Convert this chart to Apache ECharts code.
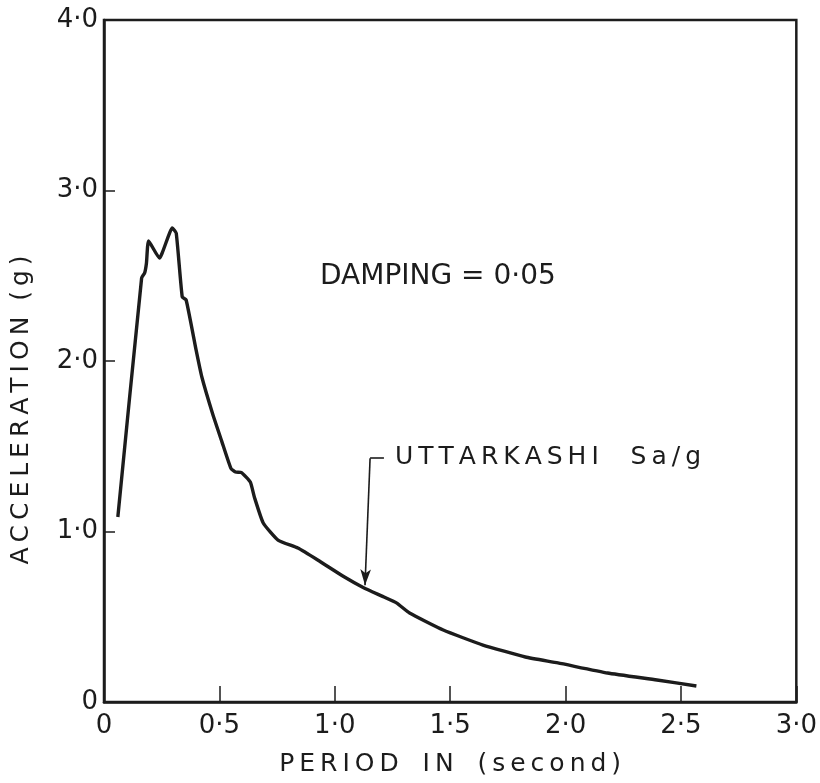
<!DOCTYPE html>
<html>
<head>
<meta charset="utf-8">
<title>Uttarkashi response spectrum</title>
<script src="https://cdn.jsdelivr.net/npm/echarts@6/dist/echarts.min.js"></script>
<style>
  html, body { margin: 0; padding: 0; background: #fff; }
  #chart { width: 820px; height: 783px; }
</style>
</head>
<body>
<div id="chart"></div>
<script>
// period (s) vs Sa/g
var periods = [0.06, 0.163, 0.176, 0.184, 0.193, 0.24, 0.296, 0.313, 0.339, 0.356,
  0.399, 0.424, 0.471, 0.51, 0.55, 0.57, 0.596, 0.634, 0.652, 0.69,
  0.754, 0.84, 0.926, 1.042, 1.127, 1.213, 1.269, 1.324, 1.47, 1.642,
  1.826, 1.967, 2.182, 2.396, 2.567]
var accel = [1.085, 2.487, 2.516, 2.575, 2.704, 2.604, 2.78, 2.75, 2.375, 2.358,
  2.065, 1.906, 1.689, 1.53, 1.37, 1.349, 1.345, 1.29, 1.2, 1.05,
  0.95, 0.903, 0.833, 0.733, 0.669, 0.616, 0.58, 0.522, 0.422, 0.334,
  0.264, 0.229, 0.17, 0.129, 0.094]

var xTickLabels = ['0', '0·5', '1·0', '1·5', '2·0', '2·5', '3·0']
var yTickLabels = ['0', '1·0', '2·0', '3·0', '4·0']

// annotation arrow (data coords)
var arrowTop = [1.153, 1.43]
var arrowTip = [1.131, 0.685]
var bracketEnd = [1.213, 1.43]

function spaced (s) {
  return s.split('').join('\u2009')
}

var ink = '#1c1c1c'
var font = '"DejaVu Sans", sans-serif'

var chart = echarts.init(document.getElementById('chart'))
var points = periods.map(function (p, i) { return [p, accel[i]] })

var options = {
  animation: false,
  grid: {
    left: 104,
    right: 18,
    top: 20,
    bottom: 81,
    show: true,
    borderColor: ink,
    borderWidth: 2.5
  },
  xAxis: {
    type: 'value',
    min: 0,
    max: 3,
    interval: 0.5,
    name: spaced('PERIOD') + '   ' + spaced('IN') + '   ' + spaced('(second)'),
    nameLocation: 'middle',
    nameGap: 50,
    nameTextStyle: { fontFamily: font, fontSize: 25, color: ink },
    axisLine: { show: true, lineStyle: { color: ink, width: 2.5 } },
    axisTick: { show: true, inside: true, length: 16, lineStyle: { color: ink, width: 1.5 } },
    axisLabel: {
      margin: 11,
      fontFamily: font,
      fontSize: 26,
      color: ink,
      formatter: function (v, i) { return xTickLabels[i] }
    },
    splitLine: { show: false }
  },
  yAxis: {
    type: 'value',
    min: 0,
    max: 4,
    interval: 1,
    axisLine: { show: true, lineStyle: { color: ink, width: 2.5 } },
    axisTick: { show: true, inside: true, length: 11, lineStyle: { color: ink, width: 1.5 } },
    axisLabel: {
      margin: 6,
      fontFamily: font,
      fontSize: 26,
      color: ink,
      formatter: function (v, i) { return yTickLabels[i] }
    },
    splitLine: { show: false }
  },
  graphic: [
    {
      type: 'text',
      x: 21,
      y: 410,
      rotation: Math.PI / 2,
      style: {
        text: spaced('ACCELERATION') + '  ' + spaced('(g)'),
        font: '25px ' + font,
        fill: ink,
        align: 'center',
        verticalAlign: 'middle'
      }
    },
    {
      type: 'text',
      x: 320,
      y: 277,
      style: {
        text: 'DAMPING = 0·05',
        font: '28px ' + font,
        fill: ink,
        align: 'left',
        verticalAlign: 'middle'
      }
    },
    {
      type: 'text',
      x: 395,
      y: 457,
      style: {
        text: spaced('UTTARKASHI') + '    ' + spaced('Sa/g'),
        font: '25px ' + font,
        fill: ink,
        align: 'left',
        verticalAlign: 'middle'
      }
    }
  ],
  series: [
    {
      name: 'Uttarkashi',
      type: 'line',
      data: points,
      smooth: 0.15,
      showSymbol: false,
      lineStyle: { color: ink, width: 3.4 },
      markLine: {
        silent: true,
        symbolSize: [8, 16],
        label: { show: false },
        lineStyle: { color: ink, width: 1.6, type: 'solid' },
        data: [
          [{ coord: arrowTop, symbol: 'none' }, { coord: arrowTip, symbol: 'arrow' }],
          [{ coord: arrowTop, symbol: 'none' }, { coord: bracketEnd, symbol: 'none' }]
        ]
      }
    }
  ]
}

chart.setOption(options)
</script>
</body>
</html>
